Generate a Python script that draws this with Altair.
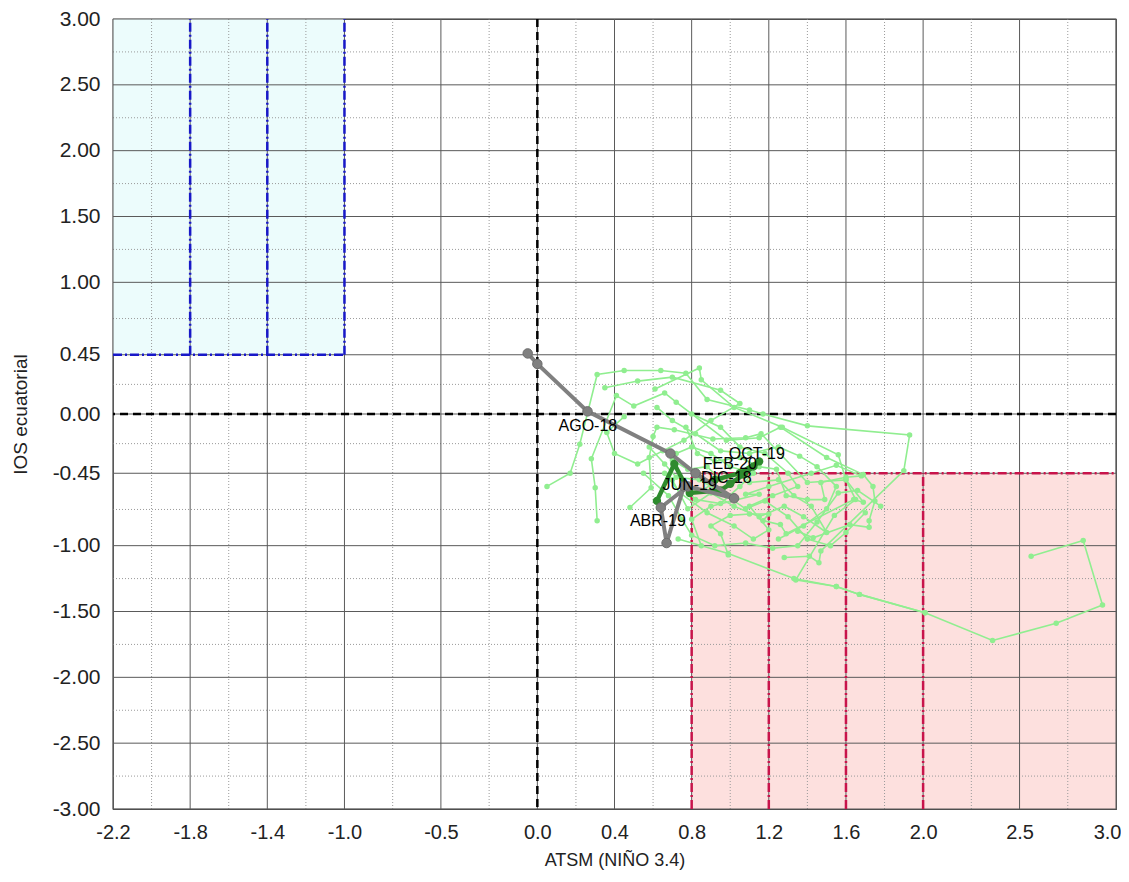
import altair as alt
import pandas as pd

# ---------------- data ----------------
x_ticks = [-2.2, -1.8, -1.4, -1.0, -0.5, 0.0, 0.4, 0.8, 1.2, 1.6, 2.0, 2.5, 3.0]
x_minor = [-2.0, -1.6, -1.2, -0.75, -0.25, 0.2, 0.6, 1.0, 1.4, 1.8, 2.25, 2.75]
y_ticks = [3.0, 2.5, 2.0, 1.5, 1.0, 0.45, 0.0, -0.45, -1.0, -1.5, -2.0, -2.5, -3.0]
y_minor = [2.75, 2.25, 1.75, 1.25, 0.725, 0.225, -0.225, -0.725, -1.25, -1.75, -2.25, -2.75]

# La Niña box (top-left) and El Niño box (bottom-right)
nina_box = {"x": -2.2, "x2": -1.0, "y": 0.45, "y2": 3.0}
nino_box = {"x": 0.8, "x2": 3.0, "y": -3.0, "y2": -0.45}
nina_vlines = [-1.8, -1.4, -1.0]
nino_vlines = [0.8, 1.2, 1.6, 2.0]

# historical trajectories (light green)
hist = {
    "T1": [(0.61, 0.19), (0.84, 0.35), (0.85, 0.26), (1.02, 0.05), (1.27, -0.10), (1.56, -0.31),
           (1.60, -0.50), (1.65, -0.65), (1.54, -0.77), (1.34, -1.26), (1.55, -1.31), (1.67, -1.37),
           (2.01, -1.51), (2.36, -1.72), (2.69, -1.59), (2.93, -1.45), (2.83, -0.96), (2.56, -1.08)],
    "T2": [(0.05, -0.55), (0.17, -0.45), (0.22, -0.23), (0.31, 0.30), (0.45, 0.33), (0.64, 0.33),
           (0.77, 0.31), (0.88, 0.11), (1.10, 0.03), (1.17, 0.00), (1.40, -0.09), (1.93, -0.16),
           (1.90, -0.43), (1.47, -1.04), (1.46, -1.13), (1.41, -1.08), (1.28, -1.09)],
    "T3": [(0.31, -0.81), (0.30, -0.56), (0.28, -0.34), (0.41, 0.14), (0.50, 0.06), (0.66, 0.16),
           (0.72, 0.09), (0.98, -0.20), (1.15, -0.18), (1.26, -0.10), (1.50, -0.33), (1.69, -0.46),
           (1.74, -0.55), (1.75, -0.66), (1.72, -0.81), (1.72, -0.86), (1.62, -0.84), (1.43, -0.94),
           (1.35, -0.89)],
    "T4": [(0.48, -0.71), (0.59, -0.56), (0.58, -0.33), (0.60, -0.17), (0.62, -0.10), (0.71, -0.12),
           (0.91, -0.19), (1.08, -0.18), (1.16, -0.15), (1.40, -0.52), (1.60, -0.50), (1.69, -0.67),
           (1.64, -0.65), (1.29, -0.91), (1.26, -0.84), (1.17, -0.81), (1.20, -0.76), (1.10, -0.76),
           (1.00, -0.77), (0.90, -0.85), (0.95, -0.91), (0.99, -1.07)],
    "T5": [(0.77, -0.10), (0.83, -0.30), (0.92, -0.36), (1.05, -0.33), (1.15, -0.40), (1.24, -0.42),
           (1.29, -0.62), (1.40, -0.65), (1.49, -0.65), (1.47, -0.52), (1.60, -0.48), (1.68, -0.47),
           (1.55, -0.39), (1.42, -0.45), (1.20, -0.55), (1.08, -0.61), (1.15, -0.61), (0.90, -0.70),
           (0.80, -0.80), (0.85, -1.00)],
    "T6": [(0.73, -0.95), (0.99, -1.06), (1.33, -1.25), (1.55, -1.31), (1.67, -1.37), (2.01, -1.51)],
    "T7": [(0.70, -0.35), (0.78, -0.42), (0.88, -0.40), (0.95, -0.50), (0.85, -0.58), (0.75, -0.55),
           (0.82, -0.65), (0.95, -0.68), (1.05, -0.55), (1.12, -0.45), (1.00, -0.40), (0.90, -0.30),
           (0.80, -0.25), (0.72, -0.30)],
    "T8": [(0.66, -0.45), (0.74, -0.60), (0.88, -0.75), (1.02, -0.85), (1.12, -0.95), (1.20, -0.88),
           (1.10, -0.70), (1.22, -0.62), (1.35, -0.55), (1.30, -0.45), (1.18, -0.30), (1.05, -0.25),
           (0.95, -0.10), (0.80, 0.00)],
    "T9": [(0.35, 0.20), (0.52, 0.25), (0.70, 0.28), (0.95, 0.18), (1.05, 0.08), (0.90, -0.05),
           (0.76, -0.20), (0.65, -0.28), (0.52, -0.38), (0.40, -0.30), (0.36, -0.14), (0.45, -0.02)],
    "T10": [(0.70, -0.50), (0.78, -0.72), (0.90, -0.60), (1.02, -0.70), (1.15, -0.78), (1.28, -0.70),
            (1.38, -0.78), (1.50, -0.90), (1.42, -0.70), (1.33, -0.62), (1.25, -0.50), (1.10, -0.52)],
    "T11": [(0.55, -0.45), (0.68, -0.62), (0.75, -0.80), (0.80, -0.92), (0.92, -1.00), (1.08, -0.98),
            (1.22, -1.02), (1.35, -1.00), (1.45, -0.82), (1.56, -0.60), (1.66, -0.58), (1.78, -0.70)],
    "T12": [(0.62, 0.05), (0.70, -0.05), (0.82, -0.15), (0.95, -0.28), (1.10, -0.30), (1.25, -0.25),
            (1.36, -0.32), (1.45, -0.40), (1.55, -0.55), (1.50, -0.72), (1.38, -0.85), (1.25, -0.95)],
    "T13": [(0.58, -0.25), (0.66, -0.38), (0.72, -0.48), (0.84, -0.50), (0.98, -0.62), (1.08, -0.72),
            (1.18, -0.66), (1.30, -0.78), (1.40, -0.95), (1.52, -1.00), (1.60, -0.90), (1.70, -0.75)],
}

# 2018-19 trajectory (gray)
gray_x = [-0.05, 0.00, 0.26, 0.69, 0.82, 1.02, 0.78, 0.64, 0.67, 0.76]
gray_y = [0.46, 0.38, 0.02, -0.30, -0.45, -0.64, -0.55, -0.71, -0.98, -0.55]

# 2019-20 trajectory (dark green)
dgreen_x = [0.62, 0.71, 0.79, 0.95, 1.00, 1.07, 1.12, 1.15, 1.05, 0.92]
dgreen_y = [-0.66, -0.38, -0.60, -0.58, -0.53, -0.46, -0.40, -0.36, -0.45, -0.50]

# month labels
lab_text = ["AGO-18", "DIC-18", "ABR-19", "JUN-19", "OCT-19", "FEB-20"]
lab_x = [0.262, 0.98, 0.625, 0.79, 1.138, 0.998]
lab_y = [-0.091, -0.486, -0.81, -0.54, -0.30, -0.38]

# ---------------- build ----------------
FONT = "Liberation Sans"
xs = alt.Scale(domain=[-2.2, 3.0], nice=False, zero=False)
ys = alt.Scale(domain=[-3.0, 3.0], nice=False, zero=False)
HYPHEN = "replace(datum.label, '\u2212', '-')"

hist_rows = []
for k, pts in hist.items():
    for i, (a, b) in enumerate(pts):
        hist_rows.append({"traj": k, "o": i, "x": a, "y": b})
hist_df = pd.DataFrame(hist_rows)
gray_df = pd.DataFrame({"x": gray_x, "y": gray_y, "o": range(len(gray_x))})
dg_df = pd.DataFrame({"x": dgreen_x, "y": dgreen_y, "o": range(len(dgreen_x))})
lab_df = pd.DataFrame({"t": lab_text, "x": lab_x, "y": lab_y})

last_x = x_ticks[-1]
boxes = pd.DataFrame([dict(nina_box, c="nina"), dict(nino_box, c="nino")])
fill = alt.Chart(boxes).mark_rect().encode(
    x=alt.X("x:Q", scale=xs, axis=alt.Axis(
        values=x_ticks, format=".1f", labelExpr=HYPHEN, grid=False, ticks=False, domain=False,
        labelFont=FONT, labelFontSize=20, labelColor="#222", labelPadding=13,
        labelAlign={"condition": {"test": f"datum.value == {last_x}", "value": "right"},
                    "value": "center"},
        labelOffset={"condition": {"test": f"datum.value == {last_x}", "value": 5},
                     "value": 0},
        title="ATSM (NIÑO 3.4)", titleFont=FONT, titleFontSize=18, titleFontWeight="normal",
        titleColor="#222", titlePadding=9, labelFlush=False)),
    x2="x2:Q",
    y=alt.Y("y:Q", scale=ys, axis=alt.Axis(
        values=y_ticks, format=".2f", labelExpr=HYPHEN, grid=False, ticks=False, domain=False,
        labelFont=FONT, labelFontSize=21, labelColor="#222", labelPadding=13,
        title="IOS ecuatorial", titleFont=FONT, titleFontSize=19, titleFontWeight="normal",
        titleColor="#222", titlePadding=22, labelFlush=False)),
    y2="y2:Q",
    color=alt.Color("c:N", scale=alt.Scale(domain=["nina", "nino"], range=["#ecfcfc", "#fde0de"]),
                    legend=None),
)

minor_v = alt.Chart(pd.DataFrame({"v": x_minor})).mark_rule(
    color="#9a9a9a", strokeWidth=1, strokeDash=[1, 2]).encode(x=alt.X("v:Q", scale=xs))
minor_h = alt.Chart(pd.DataFrame({"v": y_minor})).mark_rule(
    color="#9a9a9a", strokeWidth=1, strokeDash=[1, 2]).encode(y=alt.Y("v:Q", scale=ys))
major_v = alt.Chart(pd.DataFrame({"v": x_ticks})).mark_rule(
    color="#5a5a5a", strokeWidth=1).encode(x=alt.X("v:Q", scale=xs))
major_h = alt.Chart(pd.DataFrame({"v": y_ticks})).mark_rule(
    color="#5a5a5a", strokeWidth=1).encode(y=alt.Y("v:Q", scale=ys))

nina_lines = pd.DataFrame(
    [{"x": v, "x2": v, "y": nina_box["y"], "y2": nina_box["y2"]} for v in nina_vlines]
    + [{"x": nina_box["x"], "x2": nina_box["x2"], "y": nina_box["y"], "y2": nina_box["y"]}])
nino_lines = pd.DataFrame(
    [{"x": v, "x2": v, "y": nino_box["y"], "y2": nino_box["y2"]} for v in nino_vlines]
    + [{"x": nino_box["x"], "x2": nino_box["x2"], "y": nino_box["y2"], "y2": nino_box["y2"]}])
nina_rules = alt.Chart(nina_lines).mark_rule(
    color="#1818c8", strokeWidth=2.5, strokeDash=[9, 3, 2, 3]).encode(
    x=alt.X("x:Q", scale=xs), x2="x2:Q", y=alt.Y("y:Q", scale=ys), y2="y2:Q")
nino_rules = alt.Chart(nino_lines).mark_rule(
    color="#c8144b", strokeWidth=2.5, strokeDash=[9, 3, 2, 3]).encode(
    x=alt.X("x:Q", scale=xs), x2="x2:Q", y=alt.Y("y:Q", scale=ys), y2="y2:Q")

zero_v = alt.Chart(pd.DataFrame({"v": [0.0]})).mark_rule(
    color="black", strokeWidth=2.5, strokeDash=[8, 5]).encode(x=alt.X("v:Q", scale=xs))
zero_h = alt.Chart(pd.DataFrame({"v": [0.0]})).mark_rule(
    color="black", strokeWidth=2.5, strokeDash=[8, 5]).encode(y=alt.Y("v:Q", scale=ys))

hist_line = alt.Chart(hist_df).mark_line(color="#90ee90", strokeWidth=1.6).encode(
    x=alt.X("x:Q", scale=xs), y=alt.Y("y:Q", scale=ys), detail="traj:N", order="o:Q")
hist_pts = alt.Chart(hist_df).mark_circle(color="#90ee90", size=30, opacity=1).encode(
    x=alt.X("x:Q", scale=xs), y=alt.Y("y:Q", scale=ys))

dg_line = alt.Chart(dg_df).mark_line(color="#2e8b2e", strokeWidth=4.5).encode(
    x=alt.X("x:Q", scale=xs), y=alt.Y("y:Q", scale=ys), order="o:Q")
dg_pts = alt.Chart(dg_df).mark_circle(color="#2e8b2e", size=70, opacity=1).encode(
    x=alt.X("x:Q", scale=xs), y=alt.Y("y:Q", scale=ys))

gray_line = alt.Chart(gray_df).mark_line(color="#808080", strokeWidth=4).encode(
    x=alt.X("x:Q", scale=xs), y=alt.Y("y:Q", scale=ys), order="o:Q")
gray_pts = alt.Chart(gray_df).mark_circle(color="#808080", size=90, opacity=1,
                                          stroke="#6e6e6e", strokeWidth=1).encode(
    x=alt.X("x:Q", scale=xs), y=alt.Y("y:Q", scale=ys))

labels = alt.Chart(lab_df).mark_text(font=FONT, fontSize=16, color="black").encode(
    x=alt.X("x:Q", scale=xs), y=alt.Y("y:Q", scale=ys), text="t:N")

chart = alt.layer(
    fill, minor_v, minor_h, major_v, major_h, nina_rules, nino_rules, zero_v, zero_h,
    hist_line, hist_pts, dg_line, dg_pts, gray_line, gray_pts, labels
).properties(
    width=1003, height=790,
    autosize=alt.AutoSizeParams(type="none"),
    padding={"left": 105, "top": 11, "right": 5, "bottom": 62},
).configure_view(stroke="#444", strokeWidth=1.2)

chart.save("out.html", embed_options={"renderer": "svg", "actions": False})
